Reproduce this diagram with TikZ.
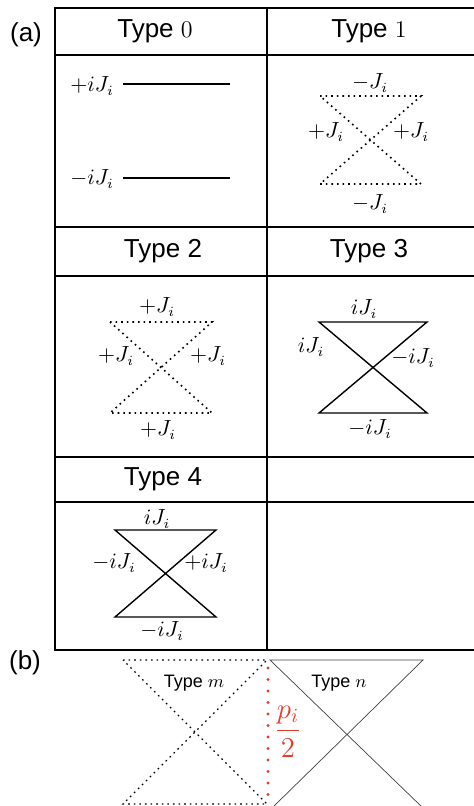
\documentclass[tikz,border=0pt]{standalone}
\usepackage{amsmath}
\usepackage{fontspec}
\newfontfamily\typefont{Liberation Sans}
\usetikzlibrary{positioning,calc}
\definecolor{pired}{RGB}{228,62,42}

\begin{document}
\begin{tikzpicture}[x=.5pt,y=-.5pt,
  grid/.style={line width=1pt},
  head/.style={font=\typefont\fontsize{13}{15}\selectfont,inner sep=0pt},
  lab/.style={font=\fontsize{10.5}{12}\selectfont,inner sep=0pt},
  small/.style={font=\typefont\fontsize{9}{11}\selectfont,inner sep=0pt},
  glass/.style={line width=.7pt},
  dotglass/.style={line width=.8pt,dotted},
  thin/.style={line width=.35pt,black!75}]
\useasboundingbox(0,0)rectangle(474,806);
% table (a)
\node[head](la)at(26,35){(a)};
\draw[grid](474,8)--(55,8)--(55,650)--(474,650);
\draw[grid](267,8)--(267,650);
\foreach\y in{55,227,276,457,502}\draw[grid](55,\y)--(474,\y);
\node[head](t0)at(155,31){Type $0$};
\node[head](t1)at(369,31){Type $1$};
\node[head](t2)at(163,251){Type 2};
\node[head](t3)at(369,251){Type 3};
\node[head](t4)at(163,479){Type 4};
% type 0
\node[lab](a0)at(92,86){$+iJ_i$};
\node[lab](b0)at(92,179){$-iJ_i$};
\draw[glass](123,84)--(230,84);
\draw[glass](123,178)--(230,178);
% type 1
\draw[dotglass](320,96)--(421,96)--(320,184)--(421,184)--cycle;
\node[lab](a1)at(370,83){$-J_i$};
\node[lab](b1)at(326,132){$+J_i$};
\node[lab](c1)at(411,132){$+J_i$};
\node[lab](d1)at(370,204){$-J_i$};
% type 2
\draw[dotglass](110,322)--(212,322)--(110,413)--(212,413)--cycle;
\node[lab](a2)at(157,307){$+J_i$};
\node[lab](b2)at(116,356){$+J_i$};
\node[lab](c2)at(208,356){$+J_i$};
\node[lab](d2)at(158,430){$+J_i$};
% type 3
\draw[glass](319,322)--(427,322)--(319,413)--(427,413)--cycle;
\node[lab](a3)at(364,309){$iJ_i$};
\node[lab](b3)at(311,347){$iJ_i$};
\node[lab](c3)at(413,358){$-iJ_i$};
\node[lab](d3)at(370,429){$-iJ_i$};
% type 4
\draw[glass](115,530)--(216,530)--(115,617)--(216,617)--cycle;
\node[lab](a4)at(157,519){$iJ_i$};
\node[lab](b4)at(114,563){$-iJ_i$};
\node[lab](c4)at(206,563){$+iJ_i$};
\node[lab](d4)at(162,631){$-iJ_i$};
% (b)
\node[head](lb)at(25,663){(b)};
\draw[dotglass,line width=.6pt](123,660)--(267,660)--(123,804)--(267,804)--cycle;
\draw[thin](423,808)--(270,660)--(423,660)--(272,808);
\draw[pired,line width=1.6pt,line cap=round,dash pattern=on 0pt off 5.75pt](268,668)--(268,796);
\node[small](tm)at(194,683){Type $m$};
\node[small](tn)at(339,683){Type $n$};
\node[pired,font=\fontsize{14}{16}\selectfont,inner sep=0pt](pf)at(288,732){$\dfrac{p_i}{2}$};
\end{tikzpicture}
\end{document}
